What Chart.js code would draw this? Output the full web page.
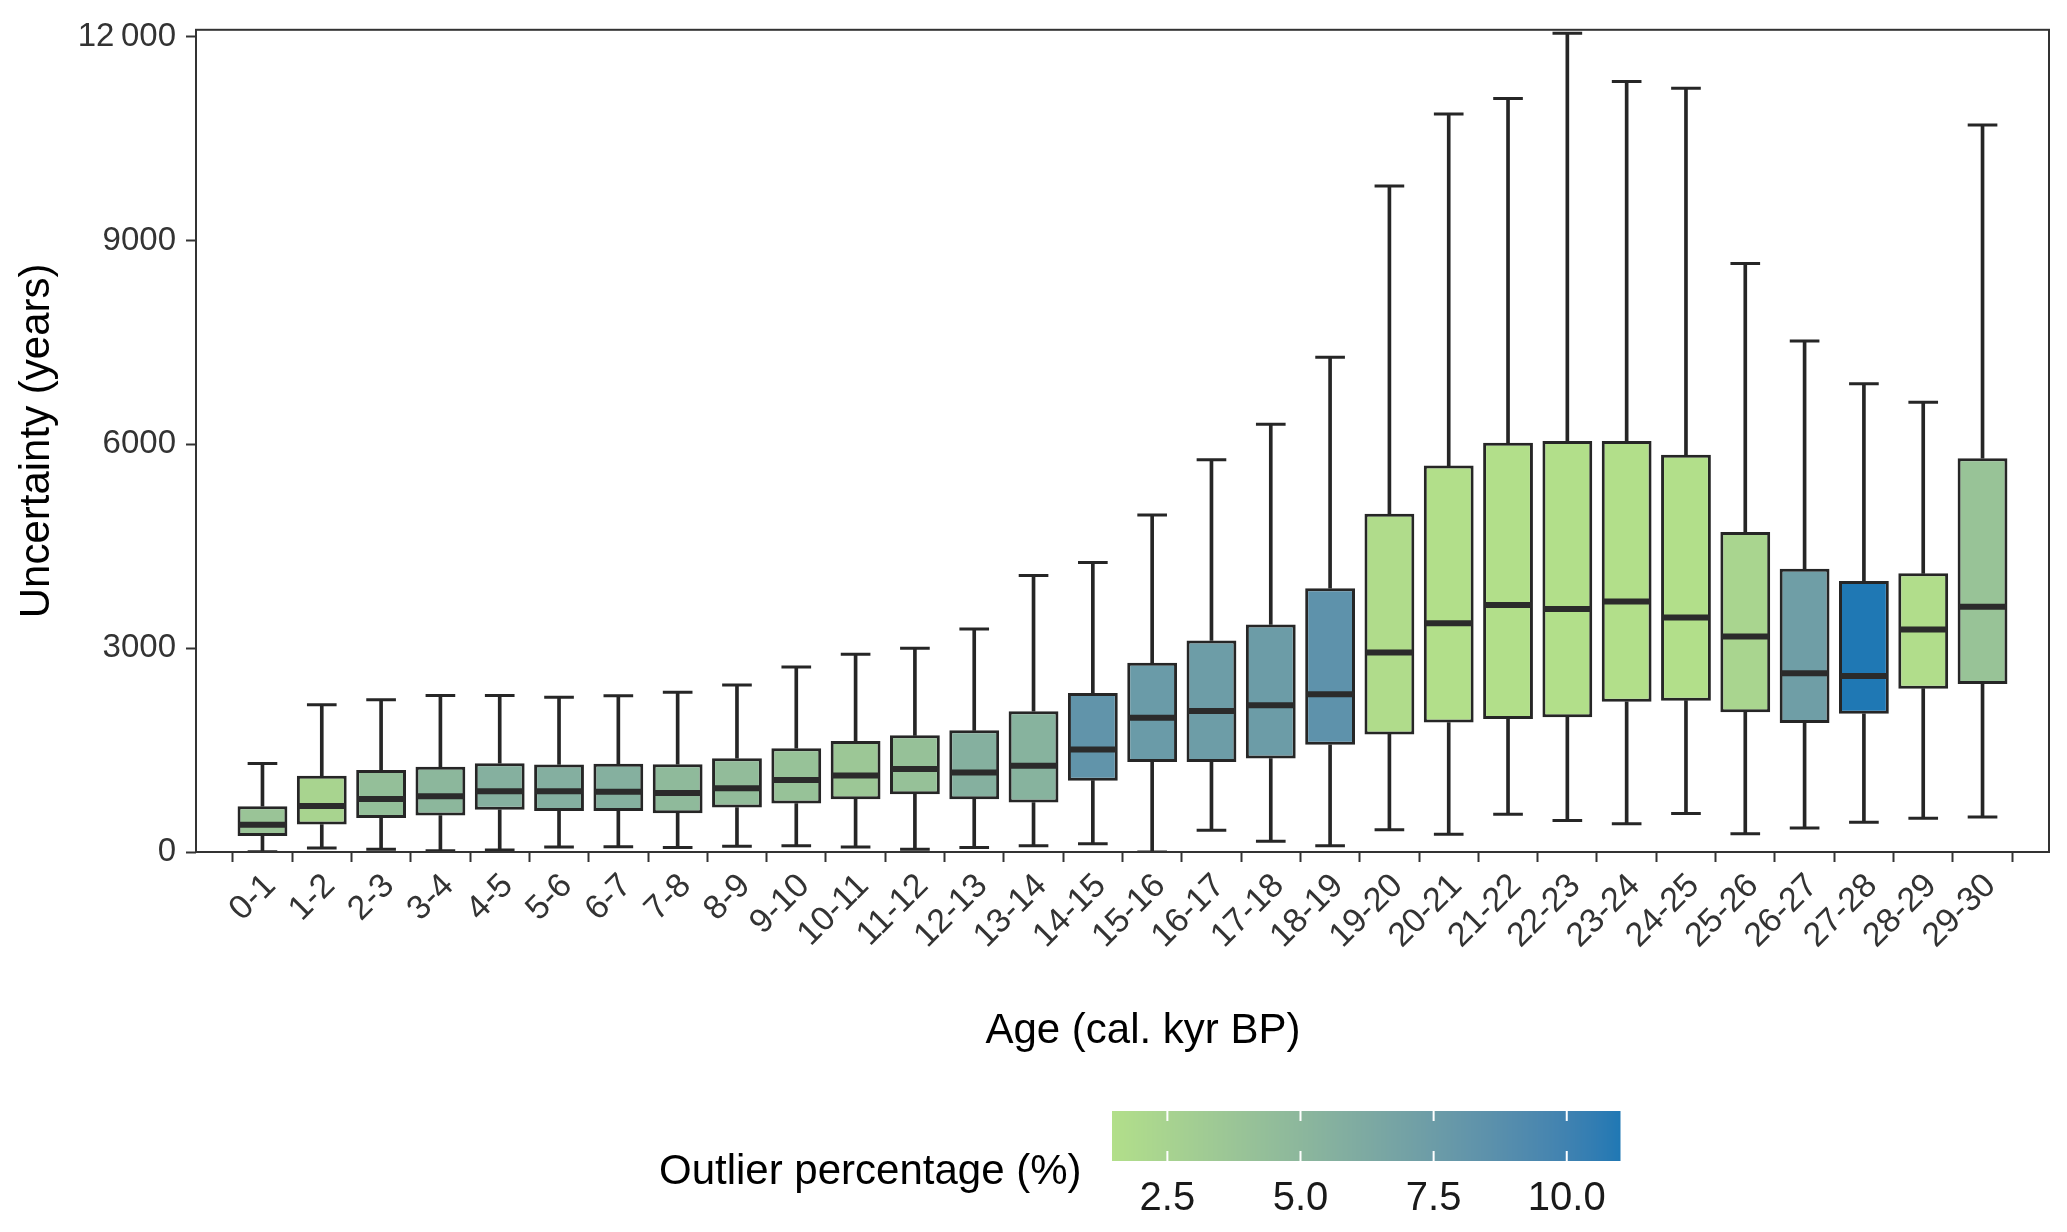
<!DOCTYPE html>
<html>
<head>
<meta charset="utf-8">
<title>Uncertainty by age bin</title>
<script src="https://cdn.jsdelivr.net/npm/chart.js@4.4.2/dist/chart.umd.min.js"></script>
<style>
  html, body { margin: 0; padding: 0; background: #fff; }
  #chart { display: block; }
</style>
</head>
<body>
<canvas id="chart" width="2067" height="1232"></canvas>
<script>
// ── Data ───────────────────────────────────────────────────────
const categories = [
  '0-1', '1-2', '2-3', '3-4', '4-5', '5-6', '6-7', '7-8', '8-9', '9-10',
  '10-11', '11-12', '12-13', '13-14', '14-15', '15-16', '16-17', '17-18', '18-19', '19-20',
  '20-21', '21-22', '22-23', '23-24', '24-25', '25-26', '26-27', '27-28', '28-29', '29-30'
];
const whiskerLow  = [5, 59, 39, 20, 29, 73, 78, 68, 83, 93, 73, 39, 68, 93, 120, 0, 320, 160, 93, 329, 262, 557, 464, 414, 565, 270, 354, 439, 498, 515];
const q1          = [234, 405, 502, 537, 620, 605, 605, 571, 654, 712, 776, 849, 776, 727, 1050, 1324, 1324, 1375, 1578, 1730, 1906, 1957, 1982, 2211, 2227, 2058, 1898, 2033, 2404, 2472];
const median      = [400, 678, 780, 820, 893, 893, 888, 868, 937, 1059, 1127, 1220, 1171, 1268, 1510, 1974, 2076, 2160, 2320, 2936, 3366, 3636, 3577, 3687, 3451, 3172, 2632, 2590, 3273, 3611];
const q3          = [673, 1122, 1205, 1254, 1307, 1288, 1298, 1293, 1380, 1527, 1634, 1717, 1790, 2073, 2340, 2785, 3113, 3349, 3881, 4978, 5687, 6023, 6048, 6048, 5847, 4708, 4168, 3990, 4101, 5796];
const whiskerHigh = [1302, 2166, 2239, 2302, 2302, 2278, 2298, 2351, 2458, 2722, 2912, 3000, 3283, 4068, 4260, 4960, 5771, 6294, 7280, 9800, 10860, 11090, 12050, 11340, 11240, 8660, 7520, 6890, 6620, 10700];
const outlierPct  = [3.8, 2.4, 4.3, 5.0, 5.6, 5.7, 5.6, 4.7, 4.5, 4.0, 3.6, 4.1, 5.6, 5.4, 8.2, 7.6, 7.4, 7.5, 8.4, 1.7, 1.5, 1.5, 1.46, 1.5, 1.5, 2.3, 7.3, 11.0, 1.6, 3.9];

const yTicks = [0, 3000, 6000, 9000, 12000];
const yTickLabels = ['0', '3000', '6000', '9000', '12\u2009000'];
const legendTicks = [2.5, 5.0, 7.5, 10.0];
const legendTickLabels = ['2.5', '5.0', '7.5', '10.0'];

// ── Colour scale (Lab interpolation, like scale_fill_gradient) ──
const LOW = '#b2df8a';
const HIGH = '#1f78b4';
const pctMin = Math.min(...outlierPct);
const pctMax = Math.max(...outlierPct);

function hexToLab(hex) {
  const c = [1, 3, 5].map(i => parseInt(hex.slice(i, i + 2), 16) / 255)
    .map(v => v <= 0.04045 ? v / 12.92 : Math.pow((v + 0.055) / 1.055, 2.4));
  const X = (c[0] * 0.4124 + c[1] * 0.3576 + c[2] * 0.1805) / 0.95047;
  const Y = (c[0] * 0.2126 + c[1] * 0.7152 + c[2] * 0.0722);
  const Z = (c[0] * 0.0193 + c[1] * 0.1192 + c[2] * 0.9505) / 1.08883;
  const f = t => t > 0.008856 ? Math.cbrt(t) : 7.787 * t + 16 / 116;
  return [116 * f(Y) - 16, 500 * (f(X) - f(Y)), 200 * (f(Y) - f(Z))];
}

function labToRgb([L, a, b]) {
  const fy = (L + 16) / 116, fx = fy + a / 500, fz = fy - b / 200;
  const inv = t => t * t * t > 0.008856 ? t * t * t : (t - 16 / 116) / 7.787;
  const X = inv(fx) * 0.95047, Y = inv(fy), Z = inv(fz) * 1.08883;
  const lin = [
    X * 3.2406 + Y * -1.5372 + Z * -0.4986,
    X * -0.9689 + Y * 1.8758 + Z * 0.0415,
    X * 0.0557 + Y * -0.2040 + Z * 1.0570
  ];
  const rgb = lin.map(v => v <= 0.0031308 ? 12.92 * v : 1.055 * Math.pow(v, 1 / 2.4) - 0.055)
    .map(v => Math.round(Math.min(1, Math.max(0, v)) * 255));
  return `rgb(${rgb[0]},${rgb[1]},${rgb[2]})`;
}

const labLow = hexToLab(LOW);
const labHigh = hexToLab(HIGH);
function fillFor(v) {
  const t = (v - pctMin) / (pctMax - pctMin);
  return labToRgb(labLow.map((l, i) => l + (labHigh[i] - l) * t));
}

// ── Styling ────────────────────────────────────────────────────
const FONT = '"Liberation Sans", Arial, Helvetica, sans-serif';
const INK = '#262626';
Chart.defaults.font.family = FONT;

const boxSpan = (ctx, frac) => {
  const xs = ctx.chart.scales.x;
  return Math.abs(xs.getPixelForValue(1) - xs.getPixelForValue(0)) * frac;
};

// ── Plugins: panel border, x title + colourbar legend ───────────
const panelBorder = {
  id: 'panelBorder',
  afterDatasetsDraw(chart) {
    const { ctx, chartArea: a } = chart;
    ctx.save();
    ctx.strokeStyle = '#333';
    ctx.lineWidth = 2;
    ctx.strokeRect(a.left, a.top, a.right - a.left, a.bottom - a.top);
    ctx.restore();
  }
};

const colourBar = {
  id: 'colourBar',
  afterDraw(chart) {
    const ctx = chart.ctx;
    const left = 1112, right = 1620, top = 1111, bottom = 1161;
    const w = right - left, h = bottom - top;
    ctx.save();

    // x axis title, centred with the legend block
    ctx.font = `42px ${FONT}`;
    ctx.fillStyle = '#000';
    ctx.textAlign = 'center';
    ctx.textBaseline = 'middle';
    ctx.fillText('Age (cal. kyr BP)', 1143, 1031);

    for (let x = 0; x < w; x++) {
      ctx.fillStyle = fillFor(pctMin + (x / w) * (pctMax - pctMin));
      ctx.fillRect(left + x, top, 1.5, h);
    }
    ctx.strokeStyle = '#fff';
    ctx.lineWidth = 2;
    ctx.fillStyle = '#1a1a1a';
    ctx.font = `40px ${FONT}`;
    legendTicks.forEach((t, i) => {
      const px = left + (t - pctMin) / (pctMax - pctMin) * w;
      ctx.beginPath();
      ctx.moveTo(px, top); ctx.lineTo(px, top + h / 5);
      ctx.moveTo(px, bottom); ctx.lineTo(px, bottom - h / 5);
      ctx.stroke();
      ctx.fillText(legendTickLabels[i], px, 1199);
    });
    ctx.font = `42px ${FONT}`;
    ctx.fillStyle = '#000';
    ctx.textAlign = 'left';
    ctx.fillText('Outlier percentage (%)', 659, 1172);
    ctx.restore();
  }
};

// ── Chart ──────────────────────────────────────────────────────
const idx = categories.map((_, i) => i);

new Chart(document.getElementById('chart'), {
  type: 'bar',
  data: {
    datasets: [
      {
        label: 'upper whisker',
        data: idx.map(i => ({ x: i, y: [q3[i], whiskerHigh[i]] })),
        backgroundColor: INK,
        barThickness: 3,
        grouped: false,
        order: 4
      },
      {
        label: 'lower whisker',
        data: idx.map(i => ({ x: i, y: [whiskerLow[i], q1[i]] })),
        backgroundColor: INK,
        barThickness: 3,
        grouped: false,
        order: 4
      },
      {
        label: 'IQR',
        data: idx.map(i => ({ x: i, y: [q1[i], q3[i]] })),
        backgroundColor: outlierPct.map(fillFor),
        borderColor: INK,
        borderWidth: 3,
        borderSkipped: false,
        barPercentage: 0.84,
        categoryPercentage: 1,
        grouped: false,
        order: 3
      },
      {
        type: 'scatter',
        label: 'caps',
        data: idx.flatMap(i => [{ x: i, y: whiskerLow[i] }, { x: i, y: whiskerHigh[i] }]),
        pointStyle: 'line',
        radius: ctx => boxSpan(ctx, 0.25),
        borderWidth: 3,
        borderColor: INK,
        order: 2
      },
      {
        type: 'scatter',
        label: 'median',
        data: idx.map(i => ({ x: i, y: median[i] })),
        pointStyle: 'line',
        radius: ctx => boxSpan(ctx, 0.4),
        borderWidth: 6,
        borderColor: '#2b2b2b',
        order: 1
      }
    ]
  },
  options: {
    responsive: false,
    devicePixelRatio: 1,
    animation: false,
    events: [],
    layout: { padding: { top: 22, right: 18, left: 0, bottom: 0 } },
    plugins: { legend: { display: false }, tooltip: { enabled: false } },
    scales: {
      x: {
        type: 'linear',
        min: -0.6,
        max: categories.length - 0.4,
        afterBuildTicks: axis => { axis.ticks = idx.map(i => ({ value: i })); },
        afterFit: axis => { axis.height = 380; },
        ticks: {
          callback: v => categories[v],
          autoSkip: false,
          minRotation: 45,
          maxRotation: 45,
          padding: 4,
          labelOffset: 8,
          color: '#333',
          font: { size: 34 }
        },
        grid: { drawOnChartArea: false, tickLength: 10, tickWidth: 2, tickColor: '#333' },
        border: { display: false }
      },
      y: {
        min: 0,
        max: 12100,
        afterBuildTicks: axis => { axis.ticks = yTicks.map(v => ({ value: v })); },
        afterFit: axis => { axis.width = 196; },
        ticks: {
          callback: v => yTickLabels[yTicks.indexOf(v)],
          padding: 10,
          color: '#333',
          font: { size: 33 }
        },
        grid: { drawOnChartArea: false, tickLength: 10, tickWidth: 2, tickColor: '#333' },
        border: { display: false },
        title: {
          display: true,
          text: 'Uncertainty (years)',
          color: '#000',
          font: { size: 42 },
          padding: { top: 12, bottom: 0 }
        }
      }
    }
  },
  plugins: [panelBorder, colourBar]
});
</script>
</body>
</html>
